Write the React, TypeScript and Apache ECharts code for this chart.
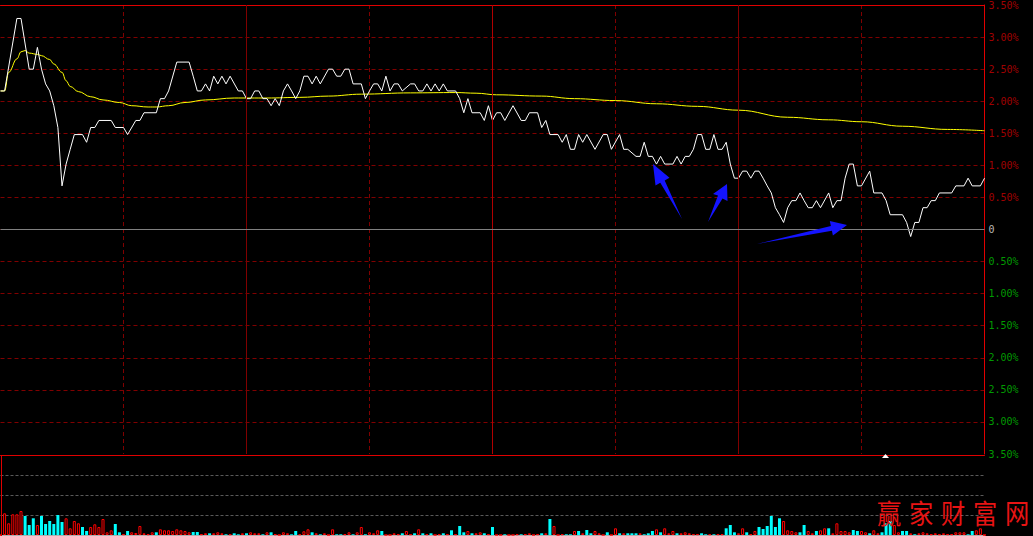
import React, { useEffect, useRef } from "react";
import * as echarts from "echarts";

const sessionMinutes = 240;
const halfHour = 30;
const pctLimit = 3.5;
const pctStep = 0.5;
const volumeMax = 80;
const volumeStep = 20;

// [minute, % change] vertices of the price line
const pricePct = [
  [0,2.16],[1,2.16],[4,3.29],[5,3.29],[7,2.50],[8,2.50],[9,2.84],[10,2.50],[11,2.27],[12,2.16],
  [13,1.93],[14,1.59],[15,0.68],[16,1.02],[17,1.25],[18,1.48],[20,1.48],[21,1.36],[22,1.59],[23,1.59],
  [24,1.70],[27,1.70],[28,1.59],[30,1.59],[31,1.48],[33,1.70],[34,1.70],[35,1.82],[38,1.82],[39,2.04],
  [40,2.04],[41,2.16],[43,2.61],[46,2.61],[47,2.39],[48,2.16],[49,2.16],[50,2.27],[51,2.16],[52,2.39],
  [53,2.27],[54,2.39],[55,2.27],[56,2.39],[58,2.16],[59,2.16],[60,2.04],[61,2.04],[62,2.16],[63,2.16],
  [64,2.04],[65,2.04],[66,1.93],[67,2.04],[68,1.93],[69,2.16],[70,2.27],[71,2.16],[72,2.04],[73,2.16],
  [74,2.39],[75,2.39],[76,2.27],[77,2.39],[78,2.27],[80,2.50],
  [81,2.50],[82,2.39],[83,2.39],[84,2.50],[85,2.50],[86,2.27],[88,2.27],[89,2.04],[90,2.16],[91,2.27],
  [92,2.27],[93,2.16],[94,2.39],[95,2.16],[96,2.27],[97,2.27],[98,2.16],[100,2.27],[101,2.27],[102,2.16],
  [103,2.16],[104,2.27],[105,2.16],[106,2.27],[107,2.16],[108,2.27],[109,2.16],[111,2.16],[112,2.04],[113,1.82],
  [114,2.04],[115,1.82],[117,1.82],[118,1.70],[119,1.93],[120,1.70],[121,1.82],[122,1.82],[123,1.70],[125,1.93],
  [127,1.70],[128,1.70],[129,1.82],[131,1.82],[132,1.59],[133,1.70],[134,1.48],[136,1.48],[137,1.36],[138,1.48],
  [139,1.25],[140,1.25],[141,1.48],[142,1.36],[143,1.48],[145,1.25],[147,1.48],[148,1.48],[149,1.25],[151,1.48],
  [152,1.25],[153,1.25],[155,1.14],[156,1.14],[157,1.36],[158,1.14],[159,1.14],[160,1.02],[161,1.14],[162,1.02],
  [164,1.02],[165,1.14],[166,1.02],[167,1.14],[168,1.14],[169,1.25],[170,1.48],[171,1.48],[172,1.25],[173,1.25],
  [174,1.48],[175,1.25],[176,1.25],[177,1.36],[178,1.02],[179,0.80],[180,0.80],[181,0.91],[182,0.91],[183,0.80],
  [184,0.91],[185,0.91],[186,0.80],[187,0.68],[188,0.57],[189,0.34],[190,0.23],[191,0.11],[192,0.34],[193,0.45],
  [194,0.45],[195,0.57],[196,0.45],[197,0.34],[198,0.34],[199,0.45],[200,0.34],[202,0.57],[203,0.34],[204,0.45],
  [205,0.45],[206,0.80],[207,1.02],[208,1.02],[209,0.68],[210,0.68],[212,0.91],[213,0.57],[215,0.57],[216,0.45],
  [217,0.23],[220,0.23],[221,0.11],[222,-0.11],[223,0.11],[224,0.11],[225,0.34],[226,0.34],[227,0.45],[228,0.45],
  [229,0.57],[232,0.57],[233,0.68],[235,0.68],[236,0.80],[237,0.68],[239,0.68],[240,0.80]
];

// [minute, % change] vertices of the average-price line
const avgPct = [
  [0,2.16],[1,2.16],[2,2.45],[4,2.66],[5,2.77],[6,2.79],[7,2.75],[9,2.73],[10,2.71],[12,2.65],
  [13,2.58],[15,2.45],[16,2.32],[17,2.23],[19,2.15],[22,2.07],[25,2.02],[29,1.98],[32,1.93],[36,1.91],
  [38,1.91],[41,1.93],[45,1.98],[50,2.02],[57,2.05],[65,2.05],[73,2.06],[80,2.08],[88,2.11],[100,2.13],
  [111,2.135],[116,2.125],[121,2.10],[132,2.08],[140,2.04],[150,2.01],[160,1.96],[170,1.92],[180,1.86],
  [192,1.75],[202,1.71],[210,1.68],[220,1.61],[231,1.56],[240,1.54]
];

// volume per minute (index = minute)
const volumes = [
  0,21.7,11.7,20.7,20.7,24,19,10,16.7,10,
  19,11,14,11,20,13,16.7,6.7,14,11.7,
  8,4,8,10.7,8,16,2.7,4.7,11,2.7,
  0.7,4,2.7,2,9,1.7,0.7,2.7,2.7,5.7,
  4.7,4.7,4,5.7,4.7,4,2.7,3,3,0.7,
  1.7,1.7,1.7,2.7,1.7,0.7,0.7,1.7,0.7,1.7,
  1.7,2.7,1.7,1.7,0.7,2.7,2.7,0.7,0,2.7,
  1.7,0.7,4,0.7,3.7,5.7,2.7,1.7,0.7,1.7,
  0,5.7,0.7,0.7,0.7,2.7,0.7,2.7,8,0.7,
  2.7,1.7,4.7,4,0,0,1.7,0.7,1.7,4,
  0.7,1.7,5.7,1.7,0.7,1.7,0,0.7,1.7,0.7,
  4.7,0.7,9,2.7,4,1.7,1.7,2.7,1.7,0.7,
  8,0,0,0.7,0,0,0.7,0.7,0.7,1.7,
  0,0.7,1.7,1.7,16,9,0,0.7,0.7,0.7,
  4,4,1.7,5,1.7,4,1.7,0,2.7,0,
  6.7,1.7,1.7,1.7,1.7,1.7,1.7,0.7,1.7,4,
  5.7,2.7,6.7,1.7,4,1.7,1.7,2.7,1.7,0.7,
  0.7,1.7,0.7,0.7,0.7,0.7,0.7,6.7,10,2.7,
  1.7,6.7,2.7,0.7,4,8,6,9,19,8,
  16.7,14,4.7,4,2.7,2.7,10,4,1.7,4,
  4.7,6.7,6.7,1.7,11.7,4,4,2.7,5,4,
  4,2.7,1.7,4.7,1.7,2.7,11.7,14,10,2.7,
  4,4,1.7,0.7,1.7,2.7,1.7,0.7,1.7,0.7,
  1.7,0.7,0.7,2.7,2.7,2.7,0.7,4,4.7,6.7,
  0
];

// u = up (hollow red), d = down (cyan)
const volumeDir = (
  "uuuuuudddu" + "dddddduuuu" + "dduuuuuudd" + "uduuuuuudu" + "uuuuuuuddu" +
  "uduuududdu" + "duuududuuu" + "udduuududu" + "uudduuduud" + "uuuduuuudu" +
  "udududuudu" + "dudduduudu" + "duuduuuduu" + "uududuuudd" + "ududduuudu" +
  "ududdduddd" + "uduuuduuuu" + "udduduuddd" + "uuduuddddd" + "duuuudduud" +
  "uuduuuuudd" + "uuduuddduu" + "dduduuuuuu" + "uuuuuudduu" + "u"
).split("");

const watermark = "赢家财富网";

const fmtPct = (v: number) => {
  if (Math.abs(v) < 1e-9) return "{z|0}";
  const s = Math.abs(v).toFixed(2) + "%";
  return v > 0 ? `{p|${s}}` : `{n|${s}}`;
};

export default function App() {
  const ref = useRef<HTMLDivElement>(null);
  useEffect(() => {
    const chart = echarts.init(ref.current as HTMLDivElement, null, { renderer: "svg" });
    const mono = "DejaVu Sans Mono";
    const frame = "#e00000";
    const grid = "#800000";
    const volData = volumes.map((v, i) => ({
      value: [i, v],
      itemStyle:
        volumeDir[i] === "u"
          ? { color: "#000000", borderColor: "#ff0000", borderWidth: 1 }
          : { color: "#00ffff", borderWidth: 0 },
    }));
    const wmChars = watermark.split("").map((ch, i) => ({
      type: "text",
      left: 877 + i * 32,
      top: 498,
      scaleX: 0.9,
      style: {
        text: ch,
        fontSize: 27,
        fontFamily: "Noto Sans CJK SC",
        fill: "#e81414",
      },
      z: 100,
    }));
    const arrow = (pts: number[][]) => ({
      type: "polygon",
      shape: { points: pts },
      style: { fill: "#1414ff" },
      z: 100,
    });
    chart.setOption({
      animation: false,
      backgroundColor: "#000000",
      grid: [
        { left: 0.5, top: 3, width: 984, height: 451 },
        { left: 0.5, top: 455, width: 984, height: 80 },
      ],
      xAxis: [
        {
          type: "value", gridIndex: 0, position: "top", min: 0, max: sessionMinutes, interval: halfHour,
          axisLine: { show: true, onZero: false, lineStyle: { color: frame, width: 1 } }, axisTick: { show: false }, axisLabel: { show: false },
          splitLine: { show: true, showMinLine: false, showMaxLine: false, lineStyle: { color: grid, type: [4, 3], width: 1 } },
        },
        {
          type: "value", gridIndex: 1, min: 0, max: sessionMinutes, interval: halfHour,
          axisLine: { show: true, onZero: false, lineStyle: { color: "#b0b0b0", width: 1 } }, axisTick: { show: false }, axisLabel: { show: false },
          splitLine: { show: false },
        },
        {
          type: "value", gridIndex: 1, position: "top", min: 0, max: sessionMinutes,
          axisLine: { show: true, onZero: false, lineStyle: { color: frame, width: 1 } }, axisTick: { show: false }, axisLabel: { show: false },
          splitLine: { show: false },
        },
      ],
      yAxis: [
        {
          type: "value", gridIndex: 0, position: "right", min: -pctLimit, max: pctLimit, interval: pctStep,
          axisLine: { show: true, onZero: false, lineStyle: { color: frame, width: 1 } }, axisTick: { show: false },
          axisLabel: {
            show: true, margin: 4, fontFamily: mono, fontSize: 10, formatter: fmtPct,
            showMinLabel: true, showMaxLabel: true,
            rich: {
              p: { color: "#a00000", fontFamily: mono, fontSize: 10 },
              n: { color: "#009a00", fontFamily: mono, fontSize: 10 },
              z: { color: "#b8b8b8", fontFamily: mono, fontSize: 10 },
            },
          },
          splitLine: { show: true, showMinLine: false, showMaxLine: false, lineStyle: { color: grid, type: [4, 3], width: 1 } },
        },
        {
          type: "value", gridIndex: 1, position: "right", min: 0, max: volumeMax, interval: volumeStep,
          axisLine: { show: false }, axisTick: { show: false }, axisLabel: { show: false },
          splitLine: { show: true, showMinLine: false, showMaxLine: false, lineStyle: { color: "#5a5a5a", type: [3, 2], width: 1 } },
        },
      ],
      series: [
        {
          type: "line", name: "均价", xAxisIndex: 0, yAxisIndex: 0, data: avgPct,
          showSymbol: false, symbol: "none", silent: true, smooth: 0.4, smoothMonotone: "x",
          lineStyle: { color: "#ffff00", width: 1 },
          markLine: {
            silent: true, symbol: ["none", "none"], label: { show: false },
            data: [
              { xAxis: 60, lineStyle: { color: grid, type: "solid", width: 1 } },
              { xAxis: 180, lineStyle: { color: grid, type: "solid", width: 1 } },
              { xAxis: 120, lineStyle: { color: "#b00000", type: "solid", width: 1 } },
            ],
          },
        },
        {
          type: "line", name: "价格", xAxisIndex: 0, yAxisIndex: 0, data: pricePct,
          showSymbol: false, symbol: "none", silent: true,
          lineStyle: { color: "#ffffff", width: 1 },
          markLine: {
            silent: true, symbol: ["none", "none"], label: { show: false },
            data: [{ yAxis: 0, lineStyle: { color: "#808080", type: "solid", width: 1 } }],
          },
        },
        {
          type: "bar", name: "成交量", xAxisIndex: 1, yAxisIndex: 1, data: volData,
          barWidth: 3, silent: true,
        },
      ],
      graphic: [
        { type: "line", shape: { x1: 1.5, y1: 455, x2: 1.5, y2: 536 }, style: { stroke: frame, lineWidth: 1 }, z: 50 },
        { type: "polygon", shape: { points: [[882, 458], [889, 458], [885.5, 454]] }, style: { fill: "#ffffff" }, z: 60 },
        arrow([[653, 164], [669.5, 177.8], [664.7, 180.4], [682, 219], [660.3, 182.8], [655.5, 185.4]]),
        arrow([[727, 184], [727.5, 201], [722.5, 198.5], [708, 222], [718, 195.5], [713, 194]]),
        arrow([[847, 225], [829.8, 221], [830.9, 225.9], [757, 244], [831.9, 230.7], [832.9, 235.6]]),
        ...wmChars,
      ],
    });
    return () => chart.dispose();
  }, []);
  return (
    <div
      ref={ref}
      style={{ position: "fixed", left: 0, top: 0, width: 1033, height: 536, background: "#000" }}
    />
  );
}
